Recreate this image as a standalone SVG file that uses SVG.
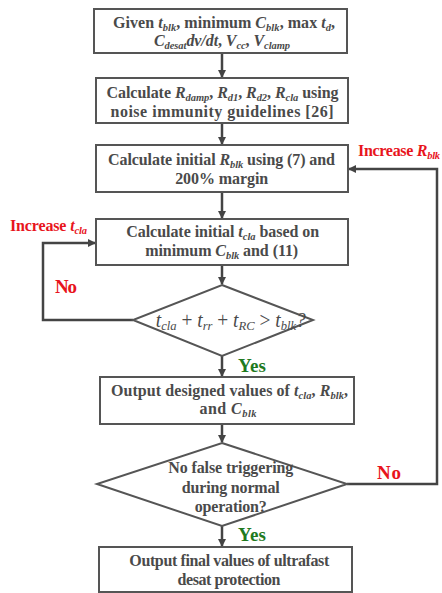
<svg xmlns="http://www.w3.org/2000/svg" width="442" height="593" viewBox="0 0 442 593">
<style>
text{font-family:"Liberation Serif","DejaVu Serif","Times New Roman",serif}
.box{fill:#fff;stroke:#555;stroke-width:2}
.t{font-weight:bold;font-size:16px;fill:#4a4a4a;text-anchor:middle}
.i{font-style:italic}
.s{font-style:italic;font-size:10.5px}
.ln{fill:none;stroke:#444;stroke-width:2.5}
.red{font-weight:bold;fill:#e8141c}
.grn{font-weight:bold;fill:#1f7a1f;font-size:19px}
.eq{font-weight:normal;font-size:20px;fill:#4a4a4a;text-anchor:middle}
.eqs{font-style:italic;font-size:13px}
</style>
<defs>
<marker id="ah" markerWidth="8" markerHeight="8" refX="7" refY="4" orient="auto" markerUnits="userSpaceOnUse">
<path d="M0,0 L8,4 L0,8 Z" fill="#444"/>
</marker>
</defs>
<g id="connectors">
<line class="ln" x1="222" y1="53" x2="222" y2="77" marker-end="url(#ah)"/>
<line class="ln" x1="222" y1="123" x2="222" y2="144" marker-end="url(#ah)"/>
<line class="ln" x1="222" y1="192" x2="222" y2="218" marker-end="url(#ah)"/>
<line class="ln" x1="222" y1="265" x2="222" y2="284" marker-end="url(#ah)"/>
<line class="ln" x1="222" y1="356" x2="222" y2="376" marker-end="url(#ah)"/>
<line class="ln" x1="222" y1="424" x2="222" y2="442" marker-end="url(#ah)"/>
<line class="ln" x1="222" y1="526" x2="222" y2="546" marker-end="url(#ah)"/>
<polyline class="ln" points="133,320 43,320 43,243 95,243" marker-end="url(#ah)"/>
<polyline class="ln" points="347,484 437,484 437,169 349,169" marker-end="url(#ah)"/>
<text class="red" x="55" y="293" font-size="19" textLength="22">No</text>
<text class="red" x="10" y="231" font-size="16" textLength="77">Increase <tspan class="i">t</tspan><tspan class="s" dy="3">cla</tspan></text>
<text class="red" x="377" y="479" font-size="19" textLength="24">No</text>
<text class="red" x="358" y="156" font-size="16" textLength="82">Increase <tspan class="i">R</tspan><tspan class="s" dy="3">blk</tspan></text>
<text class="grn" x="238" y="541" textLength="28">Yes</text>
<text class="grn" x="238" y="372" textLength="28">Yes</text>
</g>
<g id="n1">
<rect class="box" x="94" y="9" width="253" height="44"/>
<text class="t" x="224" y="28" textLength="222">Given <tspan class="i">t</tspan><tspan class="s" dy="3">blk</tspan><tspan dy="-3">, minimum </tspan><tspan class="i">C</tspan><tspan class="s" dy="3">blk</tspan><tspan dy="-3">, max </tspan><tspan class="i">t</tspan><tspan class="s" dy="3">d</tspan><tspan dy="-3">,</tspan></text>
<text class="t" x="222" y="46" textLength="136"><tspan class="i">C</tspan><tspan class="s" dy="3">desat</tspan><tspan class="i" dy="-3">dv/dt</tspan>, <tspan class="i">V</tspan><tspan class="s" dy="3">cc</tspan><tspan dy="-3">, </tspan><tspan class="i">V</tspan><tspan class="s" dy="3">clamp</tspan></text>
</g>
<g id="n2">
<rect class="box" x="96" y="78" width="252" height="45"/>
<text class="t" x="222.5" y="98" textLength="232">Calculate <tspan class="i">R</tspan><tspan class="s" dy="3">damp</tspan><tspan dy="-3">, </tspan><tspan class="i">R</tspan><tspan class="s" dy="3">d1</tspan><tspan dy="-3">, </tspan><tspan class="i">R</tspan><tspan class="s" dy="3">d2</tspan><tspan dy="-3">, </tspan><tspan class="i">R</tspan><tspan class="s" dy="3">cla</tspan><tspan dy="-3"> using</tspan></text>
<text class="t" x="222" y="117" textLength="223">noise immunity guidelines [26]</text>
</g>
<g id="n3">
<rect class="box" x="96" y="145" width="252" height="47"/>
<text class="t" x="221.5" y="165" textLength="227">Calculate initial <tspan class="i">R</tspan><tspan class="s" dy="3">blk</tspan><tspan dy="-3"> using (7) and</tspan></text>
<text class="t" x="221.7" y="184" textLength="93">200% margin</text>
</g>
<g id="n4">
<rect class="box" x="96" y="219" width="252" height="46"/>
<text class="t" x="222.7" y="237" textLength="193">Calculate initial <tspan class="i">t</tspan><tspan class="s" dy="3">cla</tspan><tspan dy="-3"> based on</tspan></text>
<text class="t" x="221.7" y="256" textLength="153">minimum <tspan class="i">C</tspan><tspan class="s" dy="3">blk</tspan><tspan dy="-3"> and (11)</tspan></text>
</g>
<g id="d1">
<polygon class="box" points="222,285 313,320 222,356 133,320"/>
<text class="eq" x="230.8" y="327" textLength="150" lengthAdjust="spacingAndGlyphs"><tspan class="i">t</tspan><tspan class="eqs" dy="3">cla</tspan><tspan dy="-3"> + </tspan><tspan class="i">t</tspan><tspan class="eqs" dy="3">rr</tspan><tspan dy="-3"> + </tspan><tspan class="i">t</tspan><tspan class="eqs" dy="3">RC</tspan><tspan dy="-3"> &gt; </tspan><tspan class="i">t</tspan><tspan class="eqs" dy="3">blk</tspan><tspan class="i" dy="-3">?</tspan></text>
</g>
<g id="n5">
<rect class="box" x="100" y="377" width="254" height="47"/>
<text class="t" x="229.5" y="396" textLength="237">Output designed values of <tspan class="i">t</tspan><tspan class="s" dy="3">cla</tspan><tspan dy="-3">, </tspan><tspan class="i">R</tspan><tspan class="s" dy="3">blk</tspan><tspan dy="-3">,</tspan></text>
<text class="t" x="228" y="414" textLength="57">and <tspan class="i">C</tspan><tspan class="s" dy="3">blk</tspan></text>
</g>
<g id="d2">
<polygon class="box" points="222,443 347,484 222,526 97,484"/>
<text class="t" x="230.8" y="473" textLength="125">No false triggering</text>
<text class="t" x="230.8" y="493" textLength="98">during normal</text>
<text class="t" x="230.8" y="511.5" textLength="72">operation?</text>
</g>
<g id="n6">
<rect class="box" x="99" y="547" width="253" height="45"/>
<text class="t" x="229.3" y="566" textLength="200">Output final values of ultrafast</text>
<text class="t" x="229" y="584.5" textLength="103">desat protection</text>
</g>
</svg>
